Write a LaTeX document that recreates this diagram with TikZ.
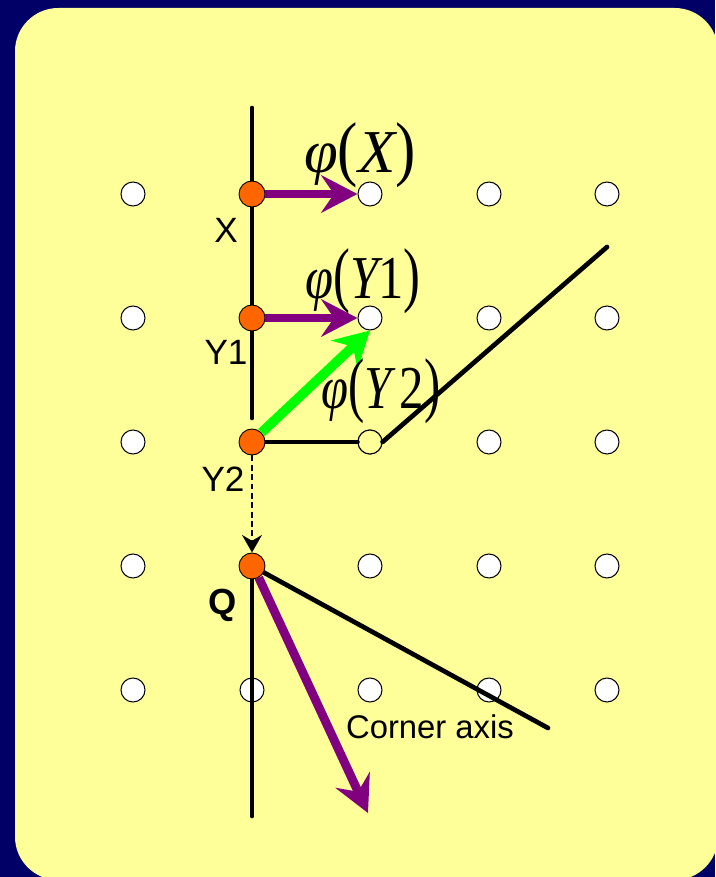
\documentclass[tikz,border=0pt]{standalone}
\usepackage{graphicx}
\usepackage{fontspec}
\setmainfont{Liberation Sans}
\newfontfamily\tms{Liberation Serif}
\usetikzlibrary{arrows.meta}
\definecolor{navy}{HTML}{000066}
\definecolor{paper}{HTML}{FFFF99}
\definecolor{dotc}{HTML}{FF6600}
\definecolor{purp}{HTML}{800080}
\definecolor{grn}{HTML}{00FF00}
\newcommand{\phil}[2]{{\tms\itshape φ}{\tms\scalebox{1}[1.18]{(}}{\tms\itshape #1}{\tms #2\scalebox{1}[1.18]{)}}}
\begin{document}
\begin{tikzpicture}[x=0.03cm,y=-0.03cm,
  gp/.style={circle,draw=black,line width=0.9pt,fill=white,minimum size=0.72cm,inner sep=0pt},
  od/.style={circle,draw=black,line width=0.8pt,fill=dotc,minimum size=0.78cm,inner sep=0pt},
  bl/.style={line width=4pt,line cap=round},
  parr/.style={purp,line width=7.5pt,-{Stealth[length=31pt,width=32pt,inset=11pt]}},
  garr/.style={grn,line width=8.2pt,-{Stealth[length=30pt,width=33pt,inset=10pt]}},
  darr/.style={black,line width=1.7pt,dash pattern=on 5pt off 3pt,-{Stealth[length=15pt,width=17pt,inset=5pt]}},
  lab/.style={inner sep=0pt,font=\fontsize{30}{32}\selectfont},
  plab/.style={inner sep=0pt,font=\fontsize{52}{58}\selectfont}
]
\useasboundingbox (0,0) rectangle (715,877);
\fill[navy] (0,0) rectangle (715,877);
\fill[paper,rounded corners=1.3cm] (15,8) rectangle (718,880);

% grid
\foreach \i/\x in {1/133,3/370,4/489,5/607}
  \foreach \j/\y in {1/194,2/318,3/442,4/566,5/690}
    \node[gp] (g\i\j) at (\x,\y) {};
\node[gp] (g25) at (252,690) {};
\node[gp,fill=paper] (g33y) at (g33) {};

% free ends
\coordinate (vtop) at (252,108);
\coordinate (vmid) at (252,418);
\coordinate (vbot) at (252,816);
\coordinate (rtop) at (607,247);
\coordinate (qend) at (548,728);
\coordinate (cax) at (368,813);

% dots positions
\coordinate (pX) at (252,194);
\coordinate (pY1) at (252,318);
\coordinate (pY2) at (252,442);
\coordinate (pQ) at (252,566);

% black lines
\draw[bl] (vtop) -- (vmid);
\draw[bl] (pQ) -- (vbot);
\draw[bl] (pY2) -- (g33y.west);
\draw[bl] (g33y.east) -- (rtop);
\draw[bl] (pQ) -- (qend);

% orange dots
\node[od] (X) at (pX) {};
\node[od] (Y1) at (pY1) {};
\node[od] (Y2) at (pY2) {};
\node[od] (Q) at (pQ) {};

% arrows
\draw[parr] (X.east) -- (g31.west);
\draw[parr] (Y1.east) -- (g32.west);
\draw[garr] (Y2.45) -- (g32.south);
\draw[darr] (Y2.south) -- (Q.north);
\draw[parr] (Q.-60) -- (cax);

% labels
\node[lab] (lX) at (226,230) {X};
\node[lab] (lY1) at (226,352) {Y1};
\node[lab] (lY2) at (223,479) {Y2};
\node[lab,font=\fontsize{31}{33}\selectfont\bfseries] (lQ) at (223,605) {Q};
\node[lab,font=\fontsize{28}{30}\selectfont] (lca) at (430,727) {Corner axis};
\node[plab] (fX) at (360,155) {\phil{X}{}};
\node[plab] (fY1) at (363,281) {\scalebox{0.83}[1]{\phil{Y}{1}}};
\node[plab] (fY2) at (381,391) {\scalebox{0.8}[1]{\phil{Y}{\,2}}};
\end{tikzpicture}
\end{document}
